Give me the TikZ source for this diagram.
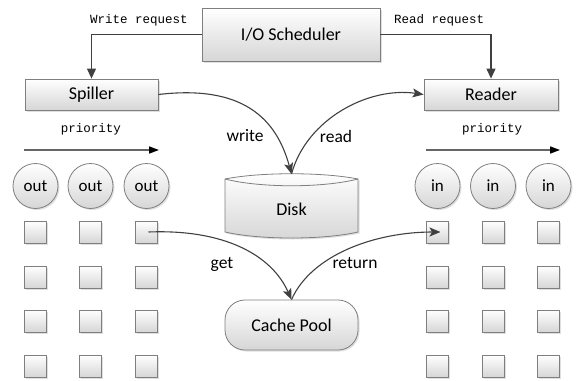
\documentclass[tikz,border=0pt]{standalone}
\usepackage{fontspec}
\setmainfont{Carlito}
\newfontfamily\monof{Liberation Mono}
\usetikzlibrary{arrows.meta,shadows}
\definecolor{edgec}{HTML}{7F7F7F}
\definecolor{linec}{HTML}{404040}
\definecolor{fillb}{HTML}{D6D6D6}
\tikzset{
  shadowed/.style={drop shadow={opacity=0.25,shadow xshift=1.5pt,shadow yshift=-1.5pt}},
  boxfill/.style={draw=edgec,line width=0.8pt,top color=white,bottom color=fillb},
  box/.style={boxfill,shadowed,inner sep=0pt,font=\fontsize{18}{20}\selectfont},
  circ/.style={box,circle,minimum size=45pt,font=\fontsize{17}{19}\selectfont},
  sq/.style={boxfill,shadowed,minimum size=22pt,inner sep=0pt},
  conn/.style={draw=linec,line width=1.1pt,-{Stealth[length=11pt,width=9pt,inset=2.5pt]}},
  sconn/.style={draw=linec,line width=1.1pt,-{Triangle[length=10pt,width=9pt]}},
  prio/.style={draw=black!60,line width=1.6pt,-{Triangle[length=10pt,width=7pt,color=black]}},
  mono/.style={font=\monof\fontsize{12.5}{14}\selectfont},
  lbl/.style={font=\fontsize{17.5}{19}\selectfont,inner sep=0pt},
}
\begin{document}
\begin{tikzpicture}[x=1pt,y=-1pt]
\useasboundingbox (0,0) rectangle (577,380);
% main boxes
\node[box,minimum width=178pt,minimum height=53pt] (sched) at (291,34.5) {I/O Scheduler};
\node[box,minimum width=133pt,minimum height=31pt] (spiller) at (91.5,94.5) {Spiller};
\node[box,minimum width=134pt,minimum height=31pt] (reader) at (491,94.5) {Reader};
% request arrows
\draw[sconn] (sched.west) -| (spiller.north);
\draw[sconn] (sched.east) -| (reader.north);
\node[mono] (wreq) at (139,20) {Write request};
\node[mono] (rreq) at (439,20) {Read request};
% priority
\node[mono] (prl) at (91,129) {priority};
\node[mono] (prr) at (492,129) {priority};
\coordinate (pl1) at (24,150); \coordinate (pl2) at (159,150);
\coordinate (pr1) at (426,150); \coordinate (pr2) at (560,150);
\draw[prio] (pl1) -- (pl2);
\draw[prio] (pr1) -- (pr2);
% disk
\path[boxfill,shadowed] (225,179) .. controls (260,172) and (323,172) .. (358,179)
   -- (358,232) .. controls (323,240) and (260,240) .. (225,232) -- cycle;
\draw[draw=edgec,line width=0.8pt] (225,179) .. controls (260,188) and (323,188) .. (358,179);
\node[lbl,font=\fontsize{18}{20}\selectfont] (disk) at (291.5,209) {Disk};
\coordinate (disktop) at (291.5,174);
% cache pool
\node[box,rounded corners=20pt,minimum width=133pt,minimum height=50pt] (cache) at (291.5,325) {Cache Pool};
% out circles and squares
\foreach \c/\x in {1/35.5,2/90.5,3/146.5}{
  \node[circ] (out\c) at (\x,186) {out};
  \foreach \r/\y in {1/232,2/277,3/321,4/366}{
    \node[sq] (lsq\c\r) at (\x,\y) {};
  }
}
\foreach \c/\x in {1/437.5,2/493,3/548.5}{
  \node[circ] (in\c) at (\x,186) {in};
  \foreach \r/\y in {1/232,2/277,3/321,4/366}{
    \node[sq] (rsq\c\r) at (\x,\y) {};
  }
}
% curved connectors
\draw[conn] (spiller.east) .. controls +(85,-10) and +(-15,-55) .. (disktop);
\draw[conn] (disktop) .. controls +(15,-55) and +(-55,-8) .. (reader.west);
\draw[conn] ([xshift=2pt]lsq31.center) .. controls +(75,-3) and +(-20,-45) .. (cache.north);
\draw[conn] (cache.north) .. controls +(20,-45) and +(-65,0) .. ([xshift=3pt]rsq11.center);
% labels
\node[lbl] (lw) at (245,136) {write};
\node[lbl] (lr) at (336,136) {read};
\node[lbl] (lg) at (222,264) {get};
\node[lbl] (lret) at (355,263) {return};
\end{tikzpicture}
\end{document}
